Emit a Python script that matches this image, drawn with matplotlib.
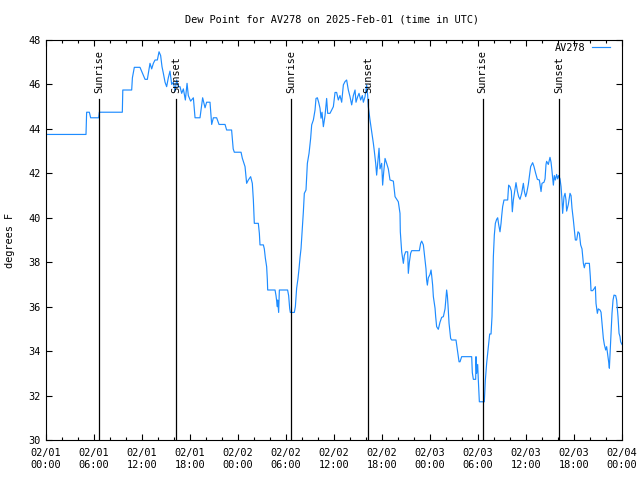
import numpy as np
import pandas as pd
import matplotlib
matplotlib.use("Agg")
import matplotlib.pyplot as plt
from matplotlib.dates import DateFormatter, HourLocator

station = "AV278"
title = "Dew Point for AV278 on 2025-Feb-01 (time in UTC)"
start = "2025-02-01 00:00"

# hours since start, dew point (F)
hours = [0, 5.0, 5.08, 5.42, 5.58, 6.58, 6.67, 9.54, 9.6, 10.71, 10.8, 11.04, 11.75,
         12.38, 12.67, 13.0, 13.21, 13.42, 13.63, 13.92, 14.13, 14.33, 14.5, 14.67,
         14.88, 15.08, 15.29, 15.5, 15.71, 15.92, 16.13, 16.33, 16.54, 16.75, 16.96,
         17.17, 17.42, 17.63, 17.79, 18.08, 18.42, 18.63, 19.25, 19.58, 19.88, 20.08,
         20.5, 20.71, 20.92, 21.33, 21.63, 22.38, 22.58, 23.2, 23.4, 23.54,
         24.38, 24.54, 24.88, 25.08, 25.29, 25.58, 25.79, 25.92, 26.0, 26.04, 26.54,
         26.67, 26.75, 27.17, 27.29, 27.42, 27.58, 27.67, 27.71, 28.63, 28.75, 28.92,
         28.96, 29.08, 29.17, 30.2, 30.33, 30.46, 30.54, 31.04, 31.17, 31.33, 31.5,
         31.63, 31.75, 31.88, 31.96, 32.04, 32.17, 32.29, 32.5, 32.67, 32.88, 33.08,
         33.21, 33.42, 33.63, 33.75, 33.92, 34.08, 34.25, 34.38, 34.5, 34.67, 34.88,
         35.08, 35.21, 35.5, 35.71, 35.92, 36.13, 36.33, 36.54, 36.75, 36.96, 37.17,
         37.38, 37.58, 37.79, 38.0, 38.21, 38.42, 38.63, 38.75, 38.96, 39.13, 39.33,
         39.54, 39.67, 39.88, 40.08, 40.21, 40.29, 40.5, 40.71, 40.92, 41.04, 41.21,
         41.33, 41.42, 41.63, 41.75, 41.96, 42.08, 42.21, 42.38, 42.58, 42.79, 43.0,
         43.42, 43.63, 44.04, 44.25, 44.29, 44.46, 44.67, 44.79, 44.96, 45.21, 45.29,
         45.42, 45.58, 45.71, 46.67, 46.83, 46.96, 47.17, 47.38, 47.5, 47.58, 47.67,
         47.79, 48.0, 48.13, 48.21, 48.33, 48.42, 48.63, 48.71, 48.83, 49.04, 49.25,
         49.46, 49.67, 49.88, 50.0, 50.08, 50.17, 50.25, 50.38, 50.58, 50.71, 51.25,
         51.42, 51.63, 51.75, 51.96, 53.21, 53.29, 53.42, 53.71, 53.75, 53.83, 53.96,
         54.04, 54.17, 54.79, 54.92, 55.08, 55.25, 55.46, 55.63, 55.75, 55.83, 55.92,
         56.04, 56.17, 56.33, 56.46, 56.58, 56.75, 56.88, 56.96, 57.08, 57.25, 57.71,
         57.83, 58.0, 58.17, 58.29, 58.42, 58.63, 58.75, 58.92, 59.08, 59.25, 59.46,
         59.67, 59.79, 59.96, 60.08, 60.29, 60.42, 60.58, 60.83, 61.0, 61.21, 61.42,
         61.67, 61.88, 62.0, 62.25, 62.38, 62.5, 62.58, 62.79, 63.0, 63.13, 63.25,
         63.42, 63.54, 63.67, 63.83, 63.96, 64.08, 64.25, 64.38, 64.5, 64.58, 64.75,
         64.88, 65.0, 65.08, 65.29, 65.5, 65.63, 65.75, 65.92, 66.04, 66.17, 66.33,
         66.5, 66.67, 66.83, 67.0, 67.17, 67.29, 67.42, 67.92, 68.04, 68.13, 68.33,
         68.5, 68.67, 68.75, 68.92, 69.04, 69.25, 69.38, 69.5, 69.67, 69.79, 69.96,
         70.08, 70.21, 70.33, 70.42, 70.5, 70.63, 70.75, 70.88, 71.0, 71.21, 71.33,
         71.5, 71.63, 71.75, 71.83, 72.0]
dewpt = [43.75, 43.75, 44.75, 44.75, 44.5, 44.5, 44.75, 44.75, 45.75, 45.75, 46.3, 46.77, 46.77,
         46.23, 46.23, 46.95, 46.7, 46.95, 47.1, 47.1, 47.47, 47.3, 46.8, 46.5,
         46.1, 45.9, 46.3, 46.6, 46.0, 46.1, 45.7, 46.2, 45.9, 45.9, 45.6,
         45.8, 45.3, 46.05, 45.5, 45.25, 45.4, 44.5, 44.5, 45.4, 44.95, 45.2,
         45.2, 44.2, 44.5, 44.5, 44.2, 44.2, 43.95, 43.95, 43.1, 42.95,
         42.95, 42.68, 42.3, 41.55, 41.7, 41.85, 41.55, 40.8, 40.1, 39.75, 39.75,
         39.3, 38.78, 38.78, 38.6, 38.18, 37.8, 37.2, 36.75, 36.75, 36.5, 36.0,
         36.3, 35.74, 36.75, 36.75, 36.5, 35.92, 35.74, 35.74, 36.0, 36.83, 37.27,
         37.72, 38.2, 38.62, 39.07, 39.5, 40.27, 41.1, 41.25, 42.45, 42.9, 43.57,
         44.18, 44.4, 44.85, 45.37, 45.4, 45.2, 44.93, 44.48, 44.75, 44.1, 44.6,
         45.37, 44.7, 44.7, 44.85, 45.0, 45.64, 45.64, 45.3, 45.5, 45.2, 45.98,
         46.13, 46.2, 45.75, 45.45, 45.08, 45.5, 45.75, 45.2, 45.45, 45.6, 45.3,
         45.5, 45.2, 45.45, 45.98, 45.5, 45.0, 44.4, 43.87, 43.35, 43.0, 42.45,
         41.92, 42.3, 43.13, 42.2, 42.45, 41.47, 42.05, 42.67, 42.45, 42.2, 41.7,
         41.65, 40.95, 40.72, 40.2, 39.37, 38.47, 37.95, 38.3, 38.47, 38.47, 37.5,
         38.0, 38.4, 38.52, 38.52, 38.85, 38.95, 38.78, 38.1, 37.7, 37.2, 36.97,
         37.3, 37.45, 37.65, 37.4, 36.97, 36.45, 35.93, 35.55, 35.1, 34.98, 35.3,
         35.52, 35.55, 35.9, 36.38, 36.75, 36.5, 36.07, 35.25, 34.57, 34.5, 34.5,
         34.05, 33.52, 33.52, 33.75, 33.75, 33.03, 32.73, 32.73, 33.75, 33.0, 33.4,
         32.7, 31.72, 31.72, 32.7, 33.45, 34.05, 34.77, 34.77, 35.55, 36.9, 38.25,
         39.22, 39.75, 39.93, 40.0, 39.7, 39.37, 39.75, 40.08, 40.5, 40.8, 40.8,
         41.47, 41.4, 41.2, 40.27, 40.8, 41.3, 41.58, 41.2, 40.95, 40.83, 41.1,
         41.55, 41.2, 40.95, 41.1, 41.5, 41.85, 42.3, 42.48, 42.3, 42.0, 41.73,
         41.7, 41.18, 41.55, 41.6, 41.75, 42.4, 42.54, 42.4, 42.72, 42.5, 42.1,
         41.47, 41.9, 41.7, 41.95, 41.75, 41.9, 41.75, 41.4, 40.8, 40.2, 40.95,
         41.1, 40.8, 40.3, 40.6, 41.1, 41.0, 40.43, 39.9, 39.45, 39.0, 39.0,
         39.37, 39.3, 38.78, 38.6, 37.95, 37.75, 37.95, 37.95, 37.35, 36.72, 36.72,
         36.8, 36.9, 36.15, 35.7, 35.9, 35.85, 35.75, 35.25, 34.57, 34.3, 34.05,
         34.2, 33.85, 33.52, 33.23, 33.8, 34.8, 35.7, 36.3, 36.52, 36.5, 36.3,
         35.55, 34.8, 34.65, 34.42, 34.3]

# sun events, hours since start
event_names = ["Sunrise", "Sunset", "Sunrise", "Sunset", "Sunrise", "Sunset"]
event_hours = [6.64, 16.31, 30.64, 40.31, 54.58, 64.18]

t0 = pd.Timestamp(start)
times = t0 + pd.to_timedelta(hours, unit="h")
ev_times = t0 + pd.to_timedelta(event_hours, unit="h")

plt.rcParams['font.family'] = ['DejaVu Sans Mono']
plt.rcParams['font.size'] = 7.4

fig = plt.figure(figsize=(6.4, 4.8), dpi=100)
ax = fig.add_axes([46/640, 40/480, 576/640, 400/480])

ax.plot(times, dewpt, color='#1e8cff', lw=0.85, label=station)

for name, t in zip(event_names, ev_times):
    ax.plot([t, t], [30, 45.35], color='black', lw=0.9)
    ax.text(t, 45.6, name, rotation=90, ha='center', va='bottom')

ax.set_xlim(t0, t0 + pd.Timedelta(hours=72))
ax.set_ylim(30, 48)
ax.set_yticks(np.arange(30, 49, 2))
ax.xaxis.set_major_locator(HourLocator(byhour=[0, 6, 12, 18]))
ax.xaxis.set_minor_locator(HourLocator(interval=2))
ax.xaxis.set_major_formatter(DateFormatter("%m/%d\n%H:%M"))
ax.tick_params(which='both', direction='in', top=True, right=True, width=0.8)
ax.tick_params(which='major', length=4.5)
ax.tick_params(which='minor', length=2.5)
ax.tick_params(axis='x', which='major', pad=6)
ax.tick_params(axis='y', pad=4)
for s in ax.spines.values():
    s.set_linewidth(0.8)

ax.legend(loc='center right', bbox_to_anchor=((610-46)/576, (440-48)/400),
          frameon=False, markerfirst=False, borderaxespad=0, borderpad=0,
          handlelength=1.8, handletextpad=0.6)

fig.text(332/640, 1 - 19/480, title, ha='center', va='center')
fig.text(10/640, 0.5, "degrees F", rotation=90, ha='center', va='center')

plt.savefig("out.png", dpi=100)
